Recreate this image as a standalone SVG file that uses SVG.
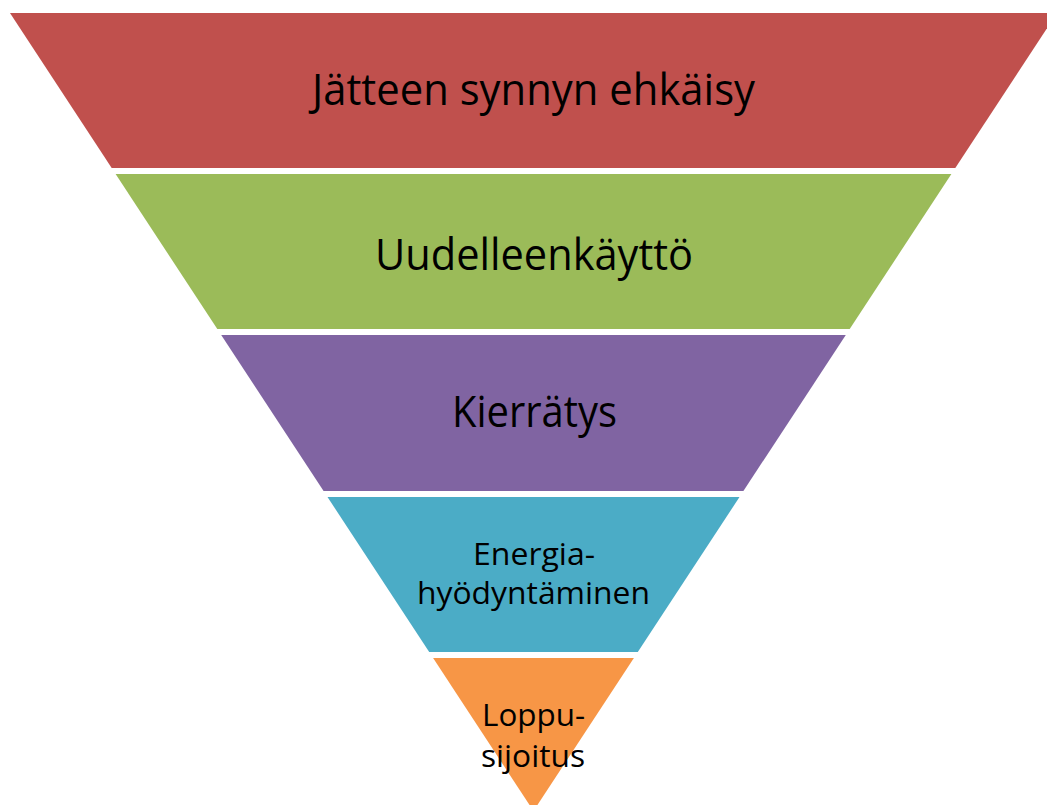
<svg xmlns="http://www.w3.org/2000/svg" width="1047" height="805" viewBox="0 0 1047 805">
<style>
.t{font-family:"Open Sans","Liberation Sans",sans-serif;fill:#000;text-anchor:middle}
.big{font-size:43px}
.small{font-size:31px}
</style>
<rect width="1047" height="805" fill="#fff"/>
<g id="level1">
<polygon points="10,13 1057,13 955.3,168 111.7,168" fill="#C0504D"/>
<text class="t big" x="533.5" y="105" textLength="443" lengthAdjust="spacingAndGlyphs">Jätteen synnyn ehkäisy</text>
</g>
<g id="level2">
<polygon points="115.6,174 951.4,174 849.7,329 217.3,329" fill="#9BBB59"/>
<text class="t big" x="534" y="270" textLength="318" lengthAdjust="spacingAndGlyphs">Uudelleenkäyttö</text>
</g>
<g id="level3">
<polygon points="221.2,335 845.8,335 743.4,491 323.6,491" fill="#8064A2"/>
<text class="t big" x="534.5" y="427" textLength="165" lengthAdjust="spacingAndGlyphs">Kierrätys</text>
</g>
<g id="level4">
<polygon points="327.5,497 739.5,497 637.8,652 429.2,652" fill="#4BACC6"/>
<text class="t small" x="534" y="565" textLength="122" lengthAdjust="spacingAndGlyphs">Energia-</text>
<text class="t small" x="533.5" y="604" textLength="233" lengthAdjust="spacingAndGlyphs">hyödyntäminen</text>
</g>
<g id="level5">
<polygon points="433.1,658 633.9,658 533.5,811" fill="#F79646"/>
<text class="t small" x="533.5" y="726" textLength="103" lengthAdjust="spacingAndGlyphs">Loppu-</text>
<text class="t small" x="533" y="767" textLength="104" lengthAdjust="spacingAndGlyphs">sijoitus</text>
</g>
<g id="connectors"/>
</svg>
